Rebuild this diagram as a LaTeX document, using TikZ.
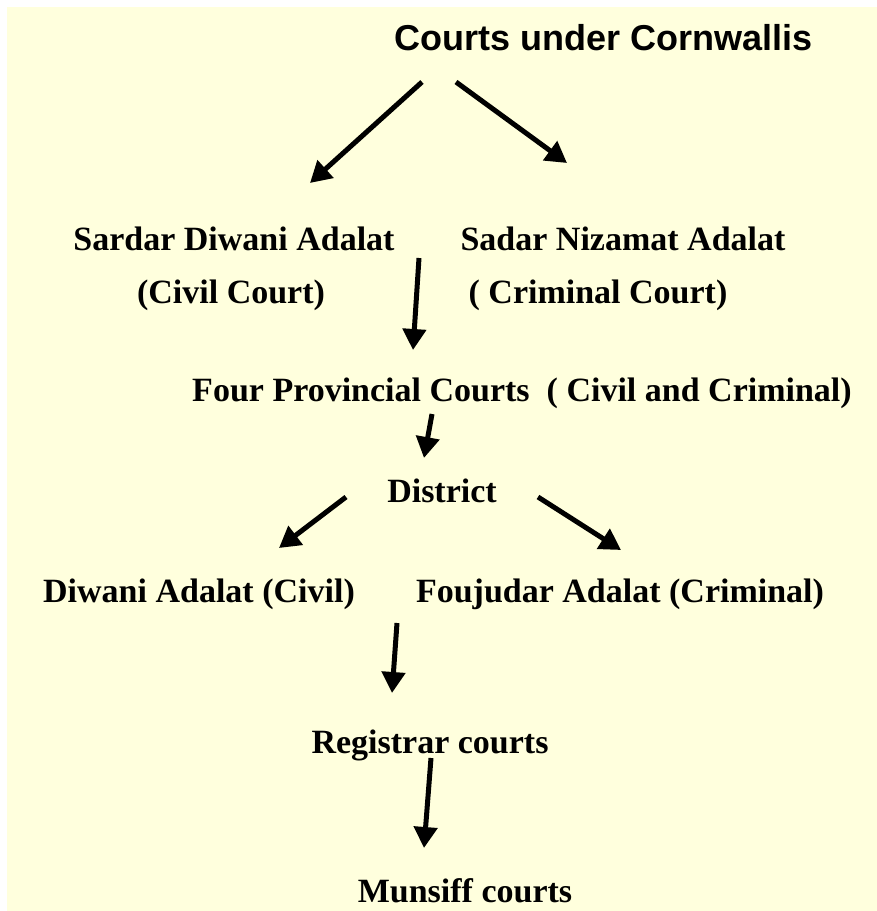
\documentclass[tikz,border=0pt]{standalone}
\usepackage{fontspec}
\usetikzlibrary{arrows.meta}
\newfontfamily\tb{Liberation Serif}
\newfontfamily\hb{Liberation Sans}
\definecolor{bgy}{RGB}{255,255,221}
\begin{document}
\begin{tikzpicture}[x=1pt,y=-1pt,
  lbl/.style={inner sep=0pt, anchor=base, text=black, font={\tb\bfseries\fontsize{34pt}{40pt}\selectfont}},
  ttl/.style={inner sep=0pt, anchor=base, text=black, font={\hb\bfseries\fontsize{36pt}{42pt}\selectfont}},
  arr/.style={line width=5pt, -{Triangle[length=21pt,width=23pt]}}]
\fill[white] (0,0) rectangle (877,911);
\fill[bgy] (7,7) rectangle (877,911);
\useasboundingbox (0,0) rectangle (877,911);
% texts
\node[ttl] (title) at (604,50) {Courts under Cornwallis};
\node[lbl] (sda) at (234,250) {Sardar Diwani Adalat};
\node[lbl] (cc) at (231,303) {(Civil Court)};
\node[lbl] (sna) at (623,250) {Sadar Nizamat Adalat};
\node[lbl] (crc) at (598,303) {( Criminal Court)};
\node[lbl] (fpc) at (522,401) {Four Provincial Courts\ \ ( Civil and Criminal)};
\node[lbl] (dist) at (442,502) {District};
\node[lbl] (da) at (199,602) {Diwani Adalat (Civil)};
\node[lbl] (fa) at (620,602) {Foujudar Adalat (Criminal)};
\node[lbl] (reg) at (430,753) {Registrar courts};
\node[lbl] (mun) at (465,902) {Munsiff courts};
% arrow end points
\coordinate (a1s) at (422,82);  \coordinate (a1e) at (310,183);
\coordinate (a2s) at (456,82);  \coordinate (a2e) at (567,163);
\coordinate (a3s) at (419,258); \coordinate (a3e) at (413,350);
\coordinate (a4s) at (432,414); \coordinate (a4e) at (424,458);
\coordinate (a5s) at (346,497); \coordinate (a5e) at (279,548);
\coordinate (a6s) at (538,497); \coordinate (a6e) at (621,550);
\coordinate (a7s) at (397,623); \coordinate (a7e) at (392,693);
\coordinate (a8s) at (431,758); \coordinate (a8e) at (424,848);
\draw[arr] (a1s) -- (a1e);
\draw[arr] (a2s) -- (a2e);
\draw[arr] (a3s) -- (a3e);
\draw[arr] (a4s) -- (a4e);
\draw[arr] (a5s) -- (a5e);
\draw[arr] (a6s) -- (a6e);
\draw[arr] (a7s) -- (a7e);
\draw[arr] (a8s) -- (a8e);
\end{tikzpicture}
\end{document}
